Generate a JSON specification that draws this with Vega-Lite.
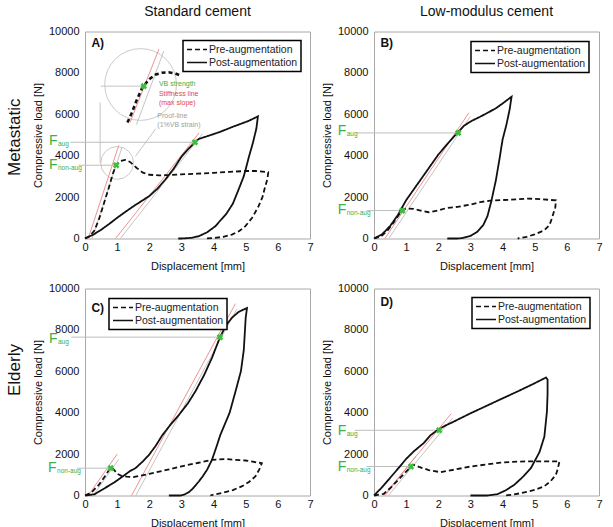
{
"$schema": "https://vega.github.io/schema/vega-lite/v6.json",
"padding": {"left": 5, "top": 4.5, "right": 2, "bottom": 0},
"background": "white",
"datasets": {
"curves": [
{"p":"A","s":"Pre-augmentation","i":0,"x":0,"y":0},{"p":"A","s":"Pre-augmentation","i":1,"x":0.15,"y":120},{"p":"A","s":"Pre-augmentation","i":2,"x":0.3,"y":400},{"p":"A","s":"Pre-augmentation","i":3,"x":0.45,"y":1000},{"p":"A","s":"Pre-augmentation","i":4,"x":0.6,"y":1750},{"p":"A","s":"Pre-augmentation","i":5,"x":0.75,"y":2500},{"p":"A","s":"Pre-augmentation","i":6,"x":0.87,"y":3150},{"p":"A","s":"Pre-augmentation","i":7,"x":0.97,"y":3540},{"p":"A","s":"Pre-augmentation","i":8,"x":1.1,"y":3740},{"p":"A","s":"Pre-augmentation","i":9,"x":1.25,"y":3800},{"p":"A","s":"Pre-augmentation","i":10,"x":1.4,"y":3700},{"p":"A","s":"Pre-augmentation","i":11,"x":1.6,"y":3420},{"p":"A","s":"Pre-augmentation","i":12,"x":1.8,"y":3180},{"p":"A","s":"Pre-augmentation","i":13,"x":2.0,"y":3080},{"p":"A","s":"Pre-augmentation","i":14,"x":2.3,"y":3050},{"p":"A","s":"Pre-augmentation","i":15,"x":2.7,"y":3070},{"p":"A","s":"Pre-augmentation","i":16,"x":3.0,"y":3100},{"p":"A","s":"Pre-augmentation","i":17,"x":3.5,"y":3130},{"p":"A","s":"Pre-augmentation","i":18,"x":4.0,"y":3170},{"p":"A","s":"Pre-augmentation","i":19,"x":4.5,"y":3220},{"p":"A","s":"Pre-augmentation","i":20,"x":5.0,"y":3260},{"p":"A","s":"Pre-augmentation","i":21,"x":5.3,"y":3260},{"p":"A","s":"Pre-augmentation","i":22,"x":5.7,"y":3200},{"p":"A","s":"Pre-augmentation","i":23,"x":5.68,"y":2900},{"p":"A","s":"Pre-augmentation","i":24,"x":5.61,"y":2530},{"p":"A","s":"Pre-augmentation","i":25,"x":5.52,"y":2000},{"p":"A","s":"Pre-augmentation","i":26,"x":5.4,"y":1560},{"p":"A","s":"Pre-augmentation","i":27,"x":5.2,"y":1000},{"p":"A","s":"Pre-augmentation","i":28,"x":4.99,"y":600},{"p":"A","s":"Pre-augmentation","i":29,"x":4.8,"y":360},{"p":"A","s":"Pre-augmentation","i":30,"x":4.57,"y":190},{"p":"A","s":"Pre-augmentation","i":31,"x":4.3,"y":80},{"p":"A","s":"Pre-augmentation","i":32,"x":3.95,"y":15},{"p":"A","s":"Pre-augmentation","i":33,"x":3.75,"y":0},
{"p":"A","s":"Post-augmentation","i":0,"x":0,"y":0},{"p":"A","s":"Post-augmentation","i":1,"x":0.25,"y":180},{"p":"A","s":"Post-augmentation","i":2,"x":0.5,"y":420},{"p":"A","s":"Post-augmentation","i":3,"x":0.75,"y":700},{"p":"A","s":"Post-augmentation","i":4,"x":1.0,"y":1000},{"p":"A","s":"Post-augmentation","i":5,"x":1.25,"y":1280},{"p":"A","s":"Post-augmentation","i":6,"x":1.5,"y":1550},{"p":"A","s":"Post-augmentation","i":7,"x":1.75,"y":1800},{"p":"A","s":"Post-augmentation","i":8,"x":2.0,"y":2050},{"p":"A","s":"Post-augmentation","i":9,"x":2.25,"y":2400},{"p":"A","s":"Post-augmentation","i":10,"x":2.5,"y":2850},{"p":"A","s":"Post-augmentation","i":11,"x":2.75,"y":3350},{"p":"A","s":"Post-augmentation","i":12,"x":3.0,"y":3950},{"p":"A","s":"Post-augmentation","i":13,"x":3.2,"y":4300},{"p":"A","s":"Post-augmentation","i":14,"x":3.42,"y":4650},{"p":"A","s":"Post-augmentation","i":15,"x":3.55,"y":4820},{"p":"A","s":"Post-augmentation","i":16,"x":3.64,"y":4860},{"p":"A","s":"Post-augmentation","i":17,"x":3.8,"y":4940},{"p":"A","s":"Post-augmentation","i":18,"x":4.2,"y":5150},{"p":"A","s":"Post-augmentation","i":19,"x":4.57,"y":5380},{"p":"A","s":"Post-augmentation","i":20,"x":5.09,"y":5680},{"p":"A","s":"Post-augmentation","i":21,"x":5.38,"y":5900},{"p":"A","s":"Post-augmentation","i":22,"x":5.33,"y":5300},{"p":"A","s":"Post-augmentation","i":23,"x":5.22,"y":4600},{"p":"A","s":"Post-augmentation","i":24,"x":5.1,"y":3950},{"p":"A","s":"Post-augmentation","i":25,"x":5.0,"y":3350},{"p":"A","s":"Post-augmentation","i":26,"x":4.94,"y":3010},{"p":"A","s":"Post-augmentation","i":27,"x":4.8,"y":2450},{"p":"A","s":"Post-augmentation","i":28,"x":4.6,"y":1680},{"p":"A","s":"Post-augmentation","i":29,"x":4.4,"y":1200},{"p":"A","s":"Post-augmentation","i":30,"x":4.2,"y":850},{"p":"A","s":"Post-augmentation","i":31,"x":4.06,"y":600},{"p":"A","s":"Post-augmentation","i":32,"x":3.8,"y":300},{"p":"A","s":"Post-augmentation","i":33,"x":3.54,"y":110},{"p":"A","s":"Post-augmentation","i":34,"x":3.3,"y":30},{"p":"A","s":"Post-augmentation","i":35,"x":3.0,"y":0},{"p":"A","s":"Post-augmentation","i":36,"x":2.9,"y":0},
{"p":"B","s":"Pre-augmentation","i":0,"x":0,"y":0},{"p":"B","s":"Pre-augmentation","i":1,"x":0.2,"y":80},{"p":"B","s":"Pre-augmentation","i":2,"x":0.4,"y":350},{"p":"B","s":"Pre-augmentation","i":3,"x":0.6,"y":750},{"p":"B","s":"Pre-augmentation","i":4,"x":0.75,"y":1100},{"p":"B","s":"Pre-augmentation","i":5,"x":0.88,"y":1350},{"p":"B","s":"Pre-augmentation","i":6,"x":1.0,"y":1450},{"p":"B","s":"Pre-augmentation","i":7,"x":1.23,"y":1430},{"p":"B","s":"Pre-augmentation","i":8,"x":1.45,"y":1350},{"p":"B","s":"Pre-augmentation","i":9,"x":1.7,"y":1270},{"p":"B","s":"Pre-augmentation","i":10,"x":2.0,"y":1350},{"p":"B","s":"Pre-augmentation","i":11,"x":2.27,"y":1480},{"p":"B","s":"Pre-augmentation","i":12,"x":2.6,"y":1530},{"p":"B","s":"Pre-augmentation","i":13,"x":3.0,"y":1640},{"p":"B","s":"Pre-augmentation","i":14,"x":3.3,"y":1760},{"p":"B","s":"Pre-augmentation","i":15,"x":3.68,"y":1840},{"p":"B","s":"Pre-augmentation","i":16,"x":4.2,"y":1870},{"p":"B","s":"Pre-augmentation","i":17,"x":4.78,"y":1930},{"p":"B","s":"Pre-augmentation","i":18,"x":5.2,"y":1900},{"p":"B","s":"Pre-augmentation","i":19,"x":5.66,"y":1840},{"p":"B","s":"Pre-augmentation","i":20,"x":5.64,"y":1500},{"p":"B","s":"Pre-augmentation","i":21,"x":5.6,"y":1300},{"p":"B","s":"Pre-augmentation","i":22,"x":5.53,"y":950},{"p":"B","s":"Pre-augmentation","i":23,"x":5.46,"y":650},{"p":"B","s":"Pre-augmentation","i":24,"x":5.3,"y":400},{"p":"B","s":"Pre-augmentation","i":25,"x":5.0,"y":200},{"p":"B","s":"Pre-augmentation","i":26,"x":4.75,"y":80},{"p":"B","s":"Pre-augmentation","i":27,"x":4.47,"y":0},
{"p":"B","s":"Post-augmentation","i":0,"x":0,"y":0},{"p":"B","s":"Post-augmentation","i":1,"x":0.25,"y":200},{"p":"B","s":"Post-augmentation","i":2,"x":0.5,"y":600},{"p":"B","s":"Post-augmentation","i":3,"x":0.75,"y":1150},{"p":"B","s":"Post-augmentation","i":4,"x":1.0,"y":1850},{"p":"B","s":"Post-augmentation","i":5,"x":1.25,"y":2400},{"p":"B","s":"Post-augmentation","i":6,"x":1.5,"y":2950},{"p":"B","s":"Post-augmentation","i":7,"x":1.75,"y":3500},{"p":"B","s":"Post-augmentation","i":8,"x":2.0,"y":4050},{"p":"B","s":"Post-augmentation","i":9,"x":2.3,"y":4600},{"p":"B","s":"Post-augmentation","i":10,"x":2.59,"y":5100},{"p":"B","s":"Post-augmentation","i":11,"x":2.8,"y":5450},{"p":"B","s":"Post-augmentation","i":12,"x":3.06,"y":5700},{"p":"B","s":"Post-augmentation","i":13,"x":3.3,"y":5880},{"p":"B","s":"Post-augmentation","i":14,"x":3.58,"y":6110},{"p":"B","s":"Post-augmentation","i":15,"x":3.8,"y":6300},{"p":"B","s":"Post-augmentation","i":16,"x":4.0,"y":6520},{"p":"B","s":"Post-augmentation","i":17,"x":4.28,"y":6850},{"p":"B","s":"Post-augmentation","i":18,"x":4.22,"y":6230},{"p":"B","s":"Post-augmentation","i":19,"x":4.12,"y":5500},{"p":"B","s":"Post-augmentation","i":20,"x":4.0,"y":4780},{"p":"B","s":"Post-augmentation","i":21,"x":3.9,"y":3800},{"p":"B","s":"Post-augmentation","i":22,"x":3.79,"y":2800},{"p":"B","s":"Post-augmentation","i":23,"x":3.65,"y":1800},{"p":"B","s":"Post-augmentation","i":24,"x":3.53,"y":1080},{"p":"B","s":"Post-augmentation","i":25,"x":3.4,"y":650},{"p":"B","s":"Post-augmentation","i":26,"x":3.21,"y":320},{"p":"B","s":"Post-augmentation","i":27,"x":3.0,"y":120},{"p":"B","s":"Post-augmentation","i":28,"x":2.75,"y":20},{"p":"B","s":"Post-augmentation","i":29,"x":2.6,"y":0},{"p":"B","s":"Post-augmentation","i":30,"x":2.28,"y":0},
{"p":"C","s":"Pre-augmentation","i":0,"x":0,"y":0},{"p":"C","s":"Pre-augmentation","i":1,"x":0.2,"y":150},{"p":"C","s":"Pre-augmentation","i":2,"x":0.43,"y":514},{"p":"C","s":"Pre-augmentation","i":3,"x":0.6,"y":880},{"p":"C","s":"Pre-augmentation","i":4,"x":0.75,"y":1240},{"p":"C","s":"Pre-augmentation","i":5,"x":0.82,"y":1340},{"p":"C","s":"Pre-augmentation","i":6,"x":0.9,"y":1250},{"p":"C","s":"Pre-augmentation","i":7,"x":1.0,"y":1050},{"p":"C","s":"Pre-augmentation","i":8,"x":1.15,"y":940},{"p":"C","s":"Pre-augmentation","i":9,"x":1.3,"y":910},{"p":"C","s":"Pre-augmentation","i":10,"x":1.5,"y":890},{"p":"C","s":"Pre-augmentation","i":11,"x":2.0,"y":1045},{"p":"C","s":"Pre-augmentation","i":12,"x":2.5,"y":1220},{"p":"C","s":"Pre-augmentation","i":13,"x":2.97,"y":1400},{"p":"C","s":"Pre-augmentation","i":14,"x":3.5,"y":1570},{"p":"C","s":"Pre-augmentation","i":15,"x":3.95,"y":1720},{"p":"C","s":"Pre-augmentation","i":16,"x":4.37,"y":1760},{"p":"C","s":"Pre-augmentation","i":17,"x":4.99,"y":1690},{"p":"C","s":"Pre-augmentation","i":18,"x":5.5,"y":1560},{"p":"C","s":"Pre-augmentation","i":19,"x":5.42,"y":1250},{"p":"C","s":"Pre-augmentation","i":20,"x":5.3,"y":920},{"p":"C","s":"Pre-augmentation","i":21,"x":5.1,"y":650},{"p":"C","s":"Pre-augmentation","i":22,"x":4.89,"y":450},{"p":"C","s":"Pre-augmentation","i":23,"x":4.6,"y":260},{"p":"C","s":"Pre-augmentation","i":24,"x":4.27,"y":130},{"p":"C","s":"Pre-augmentation","i":25,"x":4.0,"y":40},{"p":"C","s":"Pre-augmentation","i":26,"x":3.9,"y":0},
{"p":"C","s":"Post-augmentation","i":0,"x":0,"y":0},{"p":"C","s":"Post-augmentation","i":1,"x":0.15,"y":30},{"p":"C","s":"Post-augmentation","i":2,"x":0.3,"y":60},{"p":"C","s":"Post-augmentation","i":3,"x":0.5,"y":250},{"p":"C","s":"Post-augmentation","i":4,"x":0.75,"y":480},{"p":"C","s":"Post-augmentation","i":5,"x":0.95,"y":675},{"p":"C","s":"Post-augmentation","i":6,"x":1.2,"y":950},{"p":"C","s":"Post-augmentation","i":7,"x":1.4,"y":1180},{"p":"C","s":"Post-augmentation","i":8,"x":1.57,"y":1320},{"p":"C","s":"Post-augmentation","i":9,"x":1.8,"y":1650},{"p":"C","s":"Post-augmentation","i":10,"x":1.99,"y":1960},{"p":"C","s":"Post-augmentation","i":11,"x":2.2,"y":2400},{"p":"C","s":"Post-augmentation","i":12,"x":2.4,"y":2900},{"p":"C","s":"Post-augmentation","i":13,"x":2.65,"y":3400},{"p":"C","s":"Post-augmentation","i":14,"x":2.92,"y":3890},{"p":"C","s":"Post-augmentation","i":15,"x":3.2,"y":4450},{"p":"C","s":"Post-augmentation","i":16,"x":3.44,"y":5046},{"p":"C","s":"Post-augmentation","i":17,"x":3.7,"y":5800},{"p":"C","s":"Post-augmentation","i":18,"x":3.95,"y":6650},{"p":"C","s":"Post-augmentation","i":19,"x":4.2,"y":7650},{"p":"C","s":"Post-augmentation","i":20,"x":4.4,"y":8250},{"p":"C","s":"Post-augmentation","i":21,"x":4.58,"y":8600},{"p":"C","s":"Post-augmentation","i":22,"x":4.78,"y":8870},{"p":"C","s":"Post-augmentation","i":23,"x":5.04,"y":9060},{"p":"C","s":"Post-augmentation","i":24,"x":5.0,"y":8600},{"p":"C","s":"Post-augmentation","i":25,"x":4.94,"y":7020},{"p":"C","s":"Post-augmentation","i":26,"x":4.85,"y":6000},{"p":"C","s":"Post-augmentation","i":27,"x":4.68,"y":5014},{"p":"C","s":"Post-augmentation","i":28,"x":4.5,"y":4000},{"p":"C","s":"Post-augmentation","i":29,"x":4.21,"y":2925},{"p":"C","s":"Post-augmentation","i":30,"x":4.1,"y":2400},{"p":"C","s":"Post-augmentation","i":31,"x":3.95,"y":1720},{"p":"C","s":"Post-augmentation","i":32,"x":3.8,"y":1250},{"p":"C","s":"Post-augmentation","i":33,"x":3.65,"y":900},{"p":"C","s":"Post-augmentation","i":34,"x":3.54,"y":675},{"p":"C","s":"Post-augmentation","i":35,"x":3.35,"y":330},{"p":"C","s":"Post-augmentation","i":36,"x":3.23,"y":160},{"p":"C","s":"Post-augmentation","i":37,"x":3.1,"y":50},{"p":"C","s":"Post-augmentation","i":38,"x":2.97,"y":0},{"p":"C","s":"Post-augmentation","i":39,"x":2.61,"y":0},
{"p":"D","s":"Pre-augmentation","i":0,"x":0,"y":0},{"p":"D","s":"Pre-augmentation","i":1,"x":0.3,"y":80},{"p":"D","s":"Pre-augmentation","i":2,"x":0.5,"y":350},{"p":"D","s":"Pre-augmentation","i":3,"x":0.75,"y":750},{"p":"D","s":"Pre-augmentation","i":4,"x":1.0,"y":1150},{"p":"D","s":"Pre-augmentation","i":5,"x":1.15,"y":1400},{"p":"D","s":"Pre-augmentation","i":6,"x":1.23,"y":1480},{"p":"D","s":"Pre-augmentation","i":7,"x":1.4,"y":1380},{"p":"D","s":"Pre-augmentation","i":8,"x":1.7,"y":1230},{"p":"D","s":"Pre-augmentation","i":9,"x":2.07,"y":1125},{"p":"D","s":"Pre-augmentation","i":10,"x":2.5,"y":1250},{"p":"D","s":"Pre-augmentation","i":11,"x":3.0,"y":1398},{"p":"D","s":"Pre-augmentation","i":12,"x":3.5,"y":1500},{"p":"D","s":"Pre-augmentation","i":13,"x":3.94,"y":1590},{"p":"D","s":"Pre-augmentation","i":14,"x":4.5,"y":1640},{"p":"D","s":"Pre-augmentation","i":15,"x":4.99,"y":1650},{"p":"D","s":"Pre-augmentation","i":16,"x":5.4,"y":1650},{"p":"D","s":"Pre-augmentation","i":17,"x":5.77,"y":1650},{"p":"D","s":"Pre-augmentation","i":18,"x":5.72,"y":1300},{"p":"D","s":"Pre-augmentation","i":19,"x":5.66,"y":1000},{"p":"D","s":"Pre-augmentation","i":20,"x":5.5,"y":700},{"p":"D","s":"Pre-augmentation","i":21,"x":5.3,"y":450},{"p":"D","s":"Pre-augmentation","i":22,"x":5.0,"y":270},{"p":"D","s":"Pre-augmentation","i":23,"x":4.57,"y":112},{"p":"D","s":"Pre-augmentation","i":24,"x":4.3,"y":40},{"p":"D","s":"Pre-augmentation","i":25,"x":4.05,"y":0},
{"p":"D","s":"Post-augmentation","i":0,"x":0,"y":0},{"p":"D","s":"Post-augmentation","i":1,"x":0.25,"y":400},{"p":"D","s":"Post-augmentation","i":2,"x":0.5,"y":850},{"p":"D","s":"Post-augmentation","i":3,"x":0.75,"y":1300},{"p":"D","s":"Post-augmentation","i":4,"x":1.0,"y":1768},{"p":"D","s":"Post-augmentation","i":5,"x":1.25,"y":2150},{"p":"D","s":"Post-augmentation","i":6,"x":1.54,"y":2523},{"p":"D","s":"Post-augmentation","i":7,"x":1.75,"y":2900},{"p":"D","s":"Post-augmentation","i":8,"x":2.01,"y":3200},{"p":"D","s":"Post-augmentation","i":9,"x":2.25,"y":3400},{"p":"D","s":"Post-augmentation","i":10,"x":2.48,"y":3568},{"p":"D","s":"Post-augmentation","i":11,"x":3.0,"y":3969},{"p":"D","s":"Post-augmentation","i":12,"x":3.5,"y":4330},{"p":"D","s":"Post-augmentation","i":13,"x":4.0,"y":4692},{"p":"D","s":"Post-augmentation","i":14,"x":4.5,"y":5050},{"p":"D","s":"Post-augmentation","i":15,"x":4.99,"y":5416},{"p":"D","s":"Post-augmentation","i":16,"x":5.2,"y":5580},{"p":"D","s":"Post-augmentation","i":17,"x":5.35,"y":5700},{"p":"D","s":"Post-augmentation","i":18,"x":5.4,"y":5600},{"p":"D","s":"Post-augmentation","i":19,"x":5.4,"y":4900},{"p":"D","s":"Post-augmentation","i":20,"x":5.38,"y":4050},{"p":"D","s":"Post-augmentation","i":21,"x":5.3,"y":2844},{"p":"D","s":"Post-augmentation","i":22,"x":5.15,"y":2100},{"p":"D","s":"Post-augmentation","i":23,"x":4.88,"y":1318},{"p":"D","s":"Post-augmentation","i":24,"x":4.6,"y":850},{"p":"D","s":"Post-augmentation","i":25,"x":4.36,"y":514},{"p":"D","s":"Post-augmentation","i":26,"x":4.1,"y":250},{"p":"D","s":"Post-augmentation","i":27,"x":3.84,"y":64},{"p":"D","s":"Post-augmentation","i":28,"x":3.53,"y":0},{"p":"D","s":"Post-augmentation","i":29,"x":3.0,"y":0}
],
"refs": [
{"p":"A","k":"red","g":1,"x":0.1,"y":0},{"p":"A","k":"red","g":1,"x":1.05,"y":4500},
{"p":"A","k":"red","g":2,"x":0.95,"y":0},{"p":"A","k":"red","g":2,"x":3.55,"y":5100},
{"p":"A","k":"grey","g":3,"x":0.22,"y":0},{"p":"A","k":"grey","g":3,"x":1.15,"y":4400},
{"p":"A","k":"grey","g":4,"x":1.1,"y":0},{"p":"A","k":"grey","g":4,"x":3.65,"y":5050},
{"p":"A","k":"red","g":5,"x":1.4,"y":5600},{"p":"A","k":"red","g":5,"x":2.3,"y":9150},
{"p":"A","k":"grey","g":6,"x":1.6,"y":5500},{"p":"A","k":"grey","g":6,"x":2.45,"y":9050},
{"p":"A","k":"grey","g":7,"x":0.49,"y":7360},{"p":"A","k":"grey","g":7,"x":1.83,"y":7360},
{"p":"A","k":"grey","g":8,"x":0.47,"y":6570},{"p":"A","k":"grey","g":8,"x":0.47,"y":3650},
{"p":"A","k":"grey","g":9,"x":1.57,"y":3970},{"p":"A","k":"grey","g":9,"x":2.2,"y":5300},
{"p":"B","k":"red","g":1,"x":0.34,"y":0},{"p":"B","k":"red","g":1,"x":2.95,"y":6070},
{"p":"B","k":"grey","g":2,"x":0.46,"y":0},{"p":"B","k":"grey","g":2,"x":3.0,"y":5900},
{"p":"C","k":"red","g":1,"x":0.1,"y":0},{"p":"C","k":"red","g":1,"x":1.0,"y":2000},
{"p":"C","k":"grey","g":2,"x":0.25,"y":0},{"p":"C","k":"grey","g":2,"x":1.05,"y":1750},
{"p":"C","k":"red","g":3,"x":1.45,"y":0},{"p":"C","k":"red","g":3,"x":4.68,"y":9270},
{"p":"C","k":"grey","g":4,"x":1.58,"y":0},{"p":"C","k":"grey","g":4,"x":4.72,"y":9000},
{"p":"D","k":"red","g":1,"x":0.3,"y":0},{"p":"D","k":"red","g":1,"x":2.4,"y":3950},
{"p":"D","k":"red","g":2,"x":0.35,"y":0},{"p":"D","k":"red","g":2,"x":1.3,"y":1900},
{"p":"D","k":"grey","g":3,"x":0.45,"y":0},{"p":"D","k":"grey","g":3,"x":2.45,"y":3750}
],
"flines": [
{"p":"A","g":1,"x":-0.45,"y":4650},{"p":"A","g":1,"x":3.42,"y":4650},{"p":"A","g":2,"x":-0.2,"y":3540},{"p":"A","g":2,"x":0.97,"y":3540},
{"p":"B","g":1,"x":-0.54,"y":5100},{"p":"B","g":1,"x":2.62,"y":5100},{"p":"B","g":2,"x":-0.23,"y":1350},{"p":"B","g":2,"x":0.88,"y":1350},
{"p":"C","g":1,"x":-0.43,"y":7650},{"p":"C","g":1,"x":4.2,"y":7650},{"p":"C","g":2,"x":-0.25,"y":1320},{"p":"C","g":2,"x":0.8,"y":1320},
{"p":"D","g":1,"x":-0.6,"y":3150},{"p":"D","g":1,"x":2.03,"y":3150},{"p":"D","g":2,"x":-0.23,"y":1400},{"p":"D","g":2,"x":1.15,"y":1400}
],
"markers": [
{"p":"A","x":0.97,"y":3540},{"p":"A","x":3.42,"y":4650},{"p":"A","x":1.83,"y":7360},
{"p":"B","x":0.88,"y":1350},{"p":"B","x":2.62,"y":5100},
{"p":"C","x":0.8,"y":1320},{"p":"C","x":4.2,"y":7650},
{"p":"D","x":1.15,"y":1400},{"p":"D","x":2.03,"y":3150}
],
"flabels": [
{"p":"A","sub":"aug","x":-1.12,"y":4700},{"p":"A","sub":"non-aug","x":-1.12,"y":3540},
{"p":"B","sub":"aug","x":-1.13,"y":5200},{"p":"B","sub":"non-aug","x":-1.13,"y":1380},
{"p":"C","sub":"aug","x":-1.12,"y":7580},{"p":"C","sub":"non-aug","x":-1.15,"y":1330},
{"p":"D","sub":"aug","x":-1.13,"y":3100},{"p":"D","sub":"non-aug","x":-1.13,"y":1370}
],
"plabels": [
{"p":"A","t":"A)","x":0.2,"y":9450},{"p":"B","t":"B)","x":0.2,"y":9450},{"p":"C","t":"C)","x":0.2,"y":9050},{"p":"D","t":"D)","x":0.2,"y":9350}
],
"circles": [
{"r":"big","x":1.73,"y":7440},{"r":"small","x":1.0,"y":3650}
],
"inset": [
{"i":0,"x":1.32,"y":5600},{"i":1,"x":1.45,"y":6050},{"i":2,"x":1.6,"y":6650},{"i":3,"x":1.78,"y":7280},{"i":4,"x":2.0,"y":7700},{"i":5,"x":2.2,"y":7920},{"i":6,"x":2.4,"y":8010},{"i":7,"x":2.6,"y":8030},{"i":8,"x":2.8,"y":7980},{"i":9,"x":2.97,"y":7870}
],
"insetText": [
{"c":"green","t":"VB strength","x":2.3,"y":7460},
{"c":"red","t":"Stiffness line","x":2.3,"y":6960},
{"c":"red","t":"(max slope)","x":2.3,"y":6560},
{"c":"grey","t":"Proof-line","x":2.25,"y":5940},
{"c":"grey","t":"(1%VB strain)","x":2.25,"y":5470}
]
},
"config": {
"font": "Liberation Sans",
"view": {"stroke": "#a8a8a8", "strokeWidth": 1},
"axis": {"grid": false, "ticks": false, "domain": false, "labelFontSize": 11, "titleFontSize": 11, "titleFontWeight": "normal", "labelColor": "#111", "titleColor": "#111", "labelFlush": false, "labelOverlap": false, "labelFont": "Liberation Sans", "titleFont": "Liberation Sans"},
"axisX": {"labelPadding": 3, "titlePadding": 8},
"axisY": {"labelPadding": 6, "titlePadding": 5},
"legend": {"labelFontSize": 10.5, "labelFontWeight": "normal", "labelFont": "Liberation Sans", "labelColor": "#222", "symbolSize": 400, "symbolStrokeWidth": 1.5, "symbolStrokeColor": "#111", "padding": 3, "rowPadding": 1, "labelOffset": 1, "clipHeight": 12, "strokeColor": "black", "fillColor": "white"},
"title": {"font": "Liberation Sans", "fontWeight": "normal", "color": "#111"}
},
"spacing": 9,
"resolve": {"scale": {"strokeDash": "independent"}, "legend": {"strokeDash": "independent"}},
"vconcat": [
{
"title": {"text": "Metastatic", "orient": "left", "fontSize": 17, "offset": 8, "dx": 96},
"spacing": 6,
"resolve": {"scale": {"strokeDash": "independent"}, "legend": {"strokeDash": "independent"}},
"hconcat": [
{
"width": 225, "height": 207,
"title": {"text": "Standard cement", "fontSize": 14, "offset": 6.5, "frame": "group"},
"encoding": {
"x": {"field": "x", "type": "quantitative", "scale": {"domain": [0, 7], "nice": false, "zero": false}, "axis": {"title": "Displacement [mm]", "values": [0,1,2,3,4,5,6,7]}},
"y": {"field": "y", "type": "quantitative", "scale": {"domain": [0, 10000], "nice": false}, "axis": {"title": "Compressive load [N]", "values": [0,2000,4000,6000,8000,10000], "format": "d"}}
},
"layer": [
{"data": {"name": "circles"}, "transform": [{"filter": "datum.r=='big'"}], "mark": {"type": "point", "shape": "circle", "size": 5150, "filled": false, "stroke": "#b5b5b5", "strokeWidth": 1}},
{"data": {"name": "circles"}, "transform": [{"filter": "datum.r=='small'"}], "mark": {"type": "point", "shape": "circle", "size": 1075, "filled": false, "stroke": "#b5b5b5", "strokeWidth": 1}},
{"data": {"name": "refs"}, "transform": [{"filter": "datum.p=='A' && datum.k=='grey'"}], "mark": {"type": "line", "stroke": "#bdbdbd", "strokeWidth": 0.9}, "encoding": {"detail": {"field": "g"}}},
{"data": {"name": "refs"}, "transform": [{"filter": "datum.p=='A' && datum.k=='red'"}], "mark": {"type": "line", "stroke": "#ee8585", "strokeWidth": 0.9}, "encoding": {"detail": {"field": "g"}}},
{"data": {"name": "flines"}, "transform": [{"filter": "datum.p=='A'"}], "mark": {"type": "line", "stroke": "#bdbdbd", "strokeWidth": 1}, "encoding": {"detail": {"field": "g"}}},
{"data": {"name": "curves"}, "transform": [{"filter": "datum.p=='A'"}], "mark": {"type": "line", "stroke": "#111", "strokeWidth": 1.8},
 "encoding": {"order": {"field": "i"}, "strokeDash": {"field": "s", "type": "nominal", "scale": {"domain": ["Pre-augmentation", "Post-augmentation"], "range": [[5, 3], [1, 0]]}, "legend": {"title": null, "orient": "top-right", "offset": 9, "encode": {"legend": {"update": {"strokeWidth": {"value": 1.5}}}}}}}},
{"data": {"name": "inset"}, "mark": {"type": "line", "stroke": "#111", "strokeWidth": 2.6, "strokeDash": [4, 3]}, "encoding": {"order": {"field": "i"}}},
{"data": {"name": "markers"}, "transform": [{"filter": "datum.p=='A'"}], "mark": {"type": "point", "shape": "cross", "angle": 45, "size": 45, "filled": true, "color": "#3cc03c", "opacity": 1}},
{"data": {"name": "insetText"}, "transform": [{"filter": "datum.c=='green'"}], "mark": {"type": "text", "align": "left", "baseline": "middle", "fontSize": 7, "color": "#3cb043"}, "encoding": {"text": {"field": "t"}}},
{"data": {"name": "insetText"}, "transform": [{"filter": "datum.c=='red'"}], "mark": {"type": "text", "align": "left", "baseline": "middle", "fontSize": 7, "color": "#e04848"}, "encoding": {"text": {"field": "t"}}},
{"data": {"name": "insetText"}, "transform": [{"filter": "datum.c=='grey'"}], "mark": {"type": "text", "align": "left", "baseline": "middle", "fontSize": 7, "color": "#a0a0a0"}, "encoding": {"text": {"field": "t"}}},
{"data": {"name": "flabels"}, "transform": [{"filter": "datum.p=='A'"}], "mark": {"type": "text", "align": "left", "baseline": "middle", "fontSize": 14, "color": "#3cb043", "text": "F"}},
{"data": {"name": "flabels"}, "transform": [{"filter": "datum.p=='A'"}], "mark": {"type": "text", "align": "left", "baseline": "middle", "fontSize": 6.5, "color": "#3cb043", "dx": 9, "dy": 3}, "encoding": {"text": {"field": "sub"}}},
{"data": {"name": "plabels"}, "transform": [{"filter": "datum.p=='A'"}], "mark": {"type": "text", "align": "left", "baseline": "middle", "fontSize": 12, "fontWeight": "bold", "color": "#111"}, "encoding": {"text": {"field": "t"}}}
]
},
{
"width": 225, "height": 207,
"title": {"text": "Low-modulus cement", "fontSize": 14, "offset": 6.5, "frame": "group"},
"encoding": {
"x": {"field": "x", "type": "quantitative", "scale": {"domain": [0, 7], "nice": false, "zero": false}, "axis": {"title": "Displacement [mm]", "values": [0,1,2,3,4,5,6,7]}},
"y": {"field": "y", "type": "quantitative", "scale": {"domain": [0, 10000], "nice": false}, "axis": {"title": "Compressive load [N]", "values": [0,2000,4000,6000,8000,10000], "format": "d"}}
},
"layer": [
{"data": {"name": "refs"}, "transform": [{"filter": "datum.p=='B' && datum.k=='grey'"}], "mark": {"type": "line", "stroke": "#bdbdbd", "strokeWidth": 0.9}, "encoding": {"detail": {"field": "g"}}},
{"data": {"name": "refs"}, "transform": [{"filter": "datum.p=='B' && datum.k=='red'"}], "mark": {"type": "line", "stroke": "#ee8585", "strokeWidth": 0.9}, "encoding": {"detail": {"field": "g"}}},
{"data": {"name": "flines"}, "transform": [{"filter": "datum.p=='B'"}], "mark": {"type": "line", "stroke": "#bdbdbd", "strokeWidth": 1}, "encoding": {"detail": {"field": "g"}}},
{"data": {"name": "curves"}, "transform": [{"filter": "datum.p=='B'"}], "mark": {"type": "line", "stroke": "#111", "strokeWidth": 1.8},
 "encoding": {"order": {"field": "i"}, "strokeDash": {"field": "s", "type": "nominal", "scale": {"domain": ["Pre-augmentation", "Post-augmentation"], "range": [[5, 3], [1, 0]]}, "legend": {"title": null, "orient": "top-right", "offset": 10, "encode": {"legend": {"update": {"strokeWidth": {"value": 1.5}}}}}}}},
{"data": {"name": "markers"}, "transform": [{"filter": "datum.p=='B'"}], "mark": {"type": "point", "shape": "cross", "angle": 45, "size": 45, "filled": true, "color": "#3cc03c", "opacity": 1}},
{"data": {"name": "flabels"}, "transform": [{"filter": "datum.p=='B'"}], "mark": {"type": "text", "align": "left", "baseline": "middle", "fontSize": 14, "color": "#3cb043", "text": "F"}},
{"data": {"name": "flabels"}, "transform": [{"filter": "datum.p=='B'"}], "mark": {"type": "text", "align": "left", "baseline": "middle", "fontSize": 6.5, "color": "#3cb043", "dx": 9, "dy": 3}, "encoding": {"text": {"field": "sub"}}},
{"data": {"name": "plabels"}, "transform": [{"filter": "datum.p=='B'"}], "mark": {"type": "text", "align": "left", "baseline": "middle", "fontSize": 12, "fontWeight": "bold", "color": "#111"}, "encoding": {"text": {"field": "t"}}}
]
}
]
},
{
"title": {"text": "Elderly", "orient": "left", "fontSize": 17, "offset": 8, "dx": 133},
"spacing": 6,
"resolve": {"scale": {"strokeDash": "independent"}, "legend": {"strokeDash": "independent"}},
"hconcat": [
{
"width": 225, "height": 207,
"encoding": {
"x": {"field": "x", "type": "quantitative", "scale": {"domain": [0, 7], "nice": false, "zero": false}, "axis": {"title": "Displacement [mm]", "values": [0,1,2,3,4,5,6,7]}},
"y": {"field": "y", "type": "quantitative", "scale": {"domain": [0, 10000], "nice": false}, "axis": {"title": "Compressive load [N]", "values": [0,2000,4000,6000,8000,10000], "format": "d"}}
},
"layer": [
{"data": {"name": "refs"}, "transform": [{"filter": "datum.p=='C' && datum.k=='grey'"}], "mark": {"type": "line", "stroke": "#bdbdbd", "strokeWidth": 0.9}, "encoding": {"detail": {"field": "g"}}},
{"data": {"name": "refs"}, "transform": [{"filter": "datum.p=='C' && datum.k=='red'"}], "mark": {"type": "line", "stroke": "#ee8585", "strokeWidth": 0.9}, "encoding": {"detail": {"field": "g"}}},
{"data": {"name": "flines"}, "transform": [{"filter": "datum.p=='C'"}], "mark": {"type": "line", "stroke": "#bdbdbd", "strokeWidth": 1}, "encoding": {"detail": {"field": "g"}}},
{"data": {"name": "curves"}, "transform": [{"filter": "datum.p=='C'"}], "mark": {"type": "line", "stroke": "#111", "strokeWidth": 1.8},
 "encoding": {"order": {"field": "i"}, "strokeDash": {"field": "s", "type": "nominal", "scale": {"domain": ["Pre-augmentation", "Post-augmentation"], "range": [[5, 3], [1, 0]]}, "legend": {"title": null, "orient": "none", "legendX": 24, "legendY": 10, "encode": {"legend": {"update": {"strokeWidth": {"value": 1.5}}}}}}}},
{"data": {"name": "markers"}, "transform": [{"filter": "datum.p=='C'"}], "mark": {"type": "point", "shape": "cross", "angle": 45, "size": 45, "filled": true, "color": "#3cc03c", "opacity": 1}},
{"data": {"name": "flabels"}, "transform": [{"filter": "datum.p=='C'"}], "mark": {"type": "text", "align": "left", "baseline": "middle", "fontSize": 14, "color": "#3cb043", "text": "F"}},
{"data": {"name": "flabels"}, "transform": [{"filter": "datum.p=='C'"}], "mark": {"type": "text", "align": "left", "baseline": "middle", "fontSize": 6.5, "color": "#3cb043", "dx": 9, "dy": 3}, "encoding": {"text": {"field": "sub"}}},
{"data": {"name": "plabels"}, "transform": [{"filter": "datum.p=='C'"}], "mark": {"type": "text", "align": "left", "baseline": "middle", "fontSize": 12, "fontWeight": "bold", "color": "#111"}, "encoding": {"text": {"field": "t"}}}
]
},
{
"width": 225, "height": 207,
"encoding": {
"x": {"field": "x", "type": "quantitative", "scale": {"domain": [0, 7], "nice": false, "zero": false}, "axis": {"title": "Displacement [mm]", "values": [0,1,2,3,4,5,6,7]}},
"y": {"field": "y", "type": "quantitative", "scale": {"domain": [0, 10000], "nice": false}, "axis": {"title": "Compressive load [N]", "values": [0,2000,4000,6000,8000,10000], "format": "d"}}
},
"layer": [
{"data": {"name": "refs"}, "transform": [{"filter": "datum.p=='D' && datum.k=='grey'"}], "mark": {"type": "line", "stroke": "#bdbdbd", "strokeWidth": 0.9}, "encoding": {"detail": {"field": "g"}}},
{"data": {"name": "refs"}, "transform": [{"filter": "datum.p=='D' && datum.k=='red'"}], "mark": {"type": "line", "stroke": "#ee8585", "strokeWidth": 0.9}, "encoding": {"detail": {"field": "g"}}},
{"data": {"name": "flines"}, "transform": [{"filter": "datum.p=='D'"}], "mark": {"type": "line", "stroke": "#bdbdbd", "strokeWidth": 1}, "encoding": {"detail": {"field": "g"}}},
{"data": {"name": "curves"}, "transform": [{"filter": "datum.p=='D'"}], "mark": {"type": "line", "stroke": "#111", "strokeWidth": 1.8},
 "encoding": {"order": {"field": "i"}, "strokeDash": {"field": "s", "type": "nominal", "scale": {"domain": ["Pre-augmentation", "Post-augmentation"], "range": [[5, 3], [1, 0]]}, "legend": {"title": null, "orient": "top-right", "offset": 9, "encode": {"legend": {"update": {"strokeWidth": {"value": 1.5}}}}}}}},
{"data": {"name": "markers"}, "transform": [{"filter": "datum.p=='D'"}], "mark": {"type": "point", "shape": "cross", "angle": 45, "size": 45, "filled": true, "color": "#3cc03c", "opacity": 1}},
{"data": {"name": "flabels"}, "transform": [{"filter": "datum.p=='D'"}], "mark": {"type": "text", "align": "left", "baseline": "middle", "fontSize": 14, "color": "#3cb043", "text": "F"}},
{"data": {"name": "flabels"}, "transform": [{"filter": "datum.p=='D'"}], "mark": {"type": "text", "align": "left", "baseline": "middle", "fontSize": 6.5, "color": "#3cb043", "dx": 9, "dy": 3}, "encoding": {"text": {"field": "sub"}}},
{"data": {"name": "plabels"}, "transform": [{"filter": "datum.p=='D'"}], "mark": {"type": "text", "align": "left", "baseline": "middle", "fontSize": 12, "fontWeight": "bold", "color": "#111"}, "encoding": {"text": {"field": "t"}}}
]
}
]
}
]
}
